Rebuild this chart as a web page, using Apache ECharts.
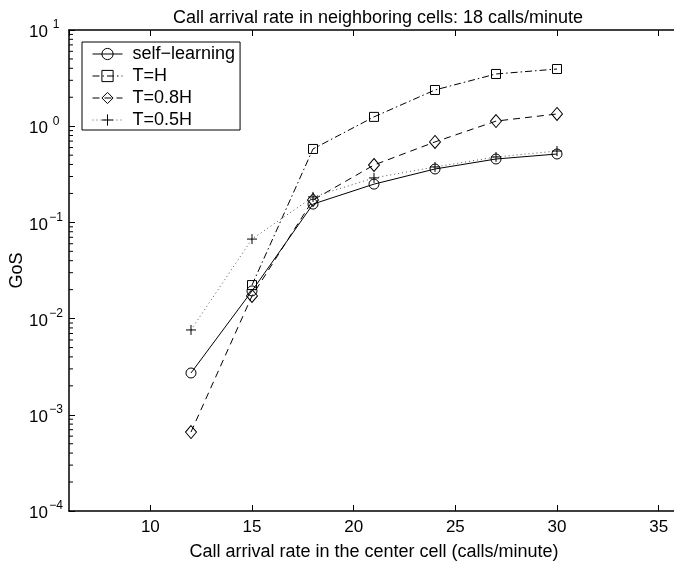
<!DOCTYPE html>
<html>
<head>
<meta charset="utf-8">
<script src="https://cdn.jsdelivr.net/npm/echarts@6/dist/echarts.min.js"></script>
<style>
html,body{margin:0;padding:0;background:#fff;}
#c{width:674px;height:564px;}
</style>
</head>
<body>
<div id="c"></div>
<script>
// ---- data ----
const titleText = 'Call arrival rate in neighboring cells: 18 calls/minute';
const xAxisName = 'Call arrival rate in the center cell (calls/minute)';
const yAxisName = 'GoS';
const seriesNames = ['self\u2212learning', 'T=H', 'T=0.8H', 'T=0.5H'];
const xSelf = [12, 15, 18, 21, 24, 27, 30];
const ySelf = [0.00272, 0.0194, 0.155, 0.250, 0.359, 0.456, 0.514];
const xH = [15, 18, 21, 24, 27, 30];
const yH = [0.0223, 0.580, 1.25, 2.38, 3.49, 3.93];
const x08 = [12, 15, 18, 21, 24, 27, 30];
const y08 = [0.000662, 0.0172, 0.171, 0.395, 0.686, 1.13, 1.34];
const x05 = [12, 15, 18, 21, 24, 27, 30];
const y05 = [0.00762, 0.0671, 0.184, 0.290, 0.377, 0.479, 0.552];
const xMin = 6, xMax = 36;
const yMin = 1e-4, yMax = 10;

const zip = (xs, ys) => xs.map((x, i) => [x, ys[i]]);
const FONT = 'Liberation Sans';
const mk = {color: 'transparent', borderColor: '#000', borderWidth: 1};

const chart = echarts.init(document.getElementById('c'), null, {renderer: 'canvas'});
const option = {
  backgroundColor: '#fff',
  animation: false,
  textStyle: {fontFamily: FONT, color: '#000'},
  title: {
    text: titleText, left: 373, top: 4, textAlign: 'center',
    textStyle: {fontFamily: FONT, fontSize: 18, fontWeight: 'normal', color: '#000'}
  },
  grid: {left: 69, right: -5, top: 30, bottom: 53, containLabel: false, outerBoundsMode: 'none'},
  legend: {
    orient: 'vertical', left: 82, top: 42,
    data: seriesNames,
    backgroundColor: '#fff', borderColor: '#000', borderWidth: 1,
    padding: [2, 5, 0, 10],
    itemWidth: 30, itemHeight: 14, itemGap: 2,
    itemStyle: {color: 'transparent', borderColor: '#000', borderWidth: 1},
    lineStyle: {width: 1},
    textStyle: {fontFamily: FONT, fontSize: 18, color: '#000', lineHeight: 20, padding: [0, 0, 0, 5]}
  },
  xAxis: [{
    type: 'value', min: xMin, max: xMax,
    name: xAxisName, nameLocation: 'middle', nameGap: 32, nameMoveOverlap: false,
    nameTextStyle: {fontFamily: FONT, fontSize: 18, color: '#000'},
    axisLine: {show: true, onZero: false, lineStyle: {color: '#000', width: 1.5}},
    axisTick: {show: true, inside: true, length: 6, lineStyle: {color: '#000'}},
    axisLabel: {
      fontFamily: FONT, fontSize: 17, color: '#000', margin: 8,
      showMinLabel: false, showMaxLabel: false,
      formatter: v => (v % 5 === 0 ? String(v) : '')
    },
    splitLine: {show: false}
  }, {
    type: 'value', min: xMin, max: xMax, position: 'top',
    axisLine: {show: true, onZero: false, lineStyle: {color: '#000', width: 1.5}},
    axisTick: {show: true, inside: true, length: 6, lineStyle: {color: '#000'}},
    axisLabel: {show: false},
    splitLine: {show: false}
  }],
  yAxis: [{
    type: 'log', logBase: 10, min: yMin, max: yMax,
    name: yAxisName, nameLocation: 'middle', nameGap: 43, nameMoveOverlap: false,
    nameTextStyle: {fontFamily: FONT, fontSize: 18, color: '#000'},
    axisLine: {show: true, onZero: false, lineStyle: {color: '#000', width: 1.5}},
    axisTick: {show: true, inside: true, length: 6, lineStyle: {color: '#000'}},
    axisLabel: {
      margin: 6,
      formatter: v => '{b|10}{s|' + String(Math.round(Math.log10(v))).replace('-', '\u2212') + '}',
      rich: {
        b: {fontFamily: FONT, fontSize: 17, color: '#000', verticalAlign: 'bottom'},
        s: {fontFamily: FONT, fontSize: 12, color: '#000', verticalAlign: 'top', width: 14, align: 'left', padding: [0, 0, 10, 1]}
      }
    },
    splitLine: {show: false}
  }],
  series: [{
    name: seriesNames[0], type: 'line', data: zip(xSelf, ySelf),
    symbol: 'circle', symbolSize: 10, itemStyle: mk, color: '#000',
    lineStyle: {color: '#000', width: 1, type: 'solid'}
  }, {
    name: seriesNames[1], type: 'line', data: zip(xH, yH),
    symbol: 'rect', symbolSize: 9, itemStyle: mk, color: '#000',
    lineStyle: {color: '#000', width: 1, type: [7, 3, 1.5, 3]}
  }, {
    name: seriesNames[2], type: 'line', data: zip(x08, y08),
    symbol: 'diamond', symbolSize: [11, 13], itemStyle: mk, color: '#000',
    lineStyle: {color: '#000', width: 1, type: [7, 5]}
  }, {
    name: seriesNames[3], type: 'line', data: zip(x05, y05),
    symbol: 'path://M0,5L10,5M5,0L5,10', symbolSize: 10, itemStyle: mk, color: '#000',
    lineStyle: {color: '#555', width: 1, type: [1, 3]}
  }]
};
chart.setOption(option);

// minor log ticks on the left axis, positioned through the chart's own scales
const minor = [];
for (let e = -4; e < 1; e++) {
  for (let m = 2; m <= 9; m++) {
    const v = m * Math.pow(10, e);
    const p = chart.convertToPixel({xAxisIndex: 0, yAxisIndex: 0}, [xMin, v]);
    minor.push({
      type: 'line', silent: true,
      shape: {x1: p[0], y1: p[1], x2: p[0] + 4, y2: p[1]},
      style: {stroke: '#000', lineWidth: 1}
    });
  }
}
chart.setOption({graphic: minor});
</script>
</body>
</html>
